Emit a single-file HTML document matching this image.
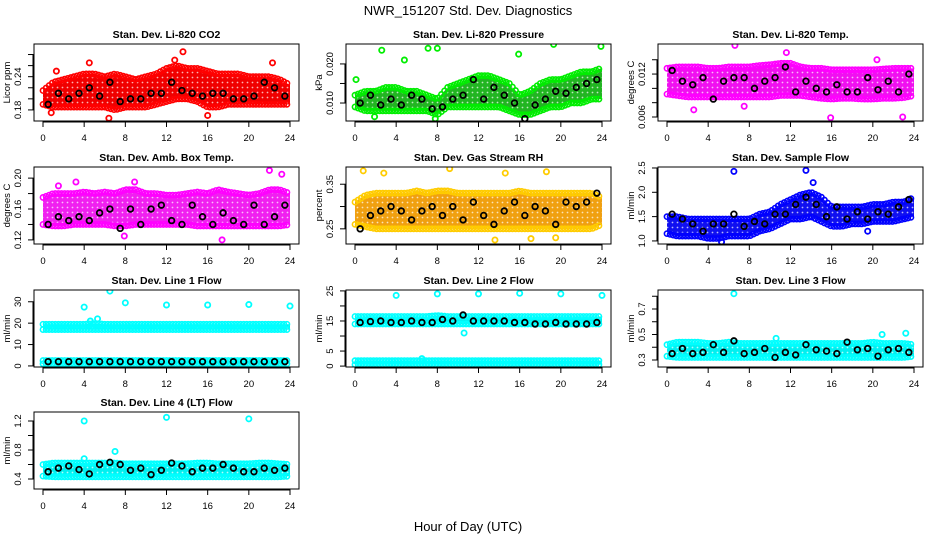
<!DOCTYPE html>
<html><head><meta charset="utf-8">
<style>
html,body{margin:0;padding:0;background:#fff;}
svg{display:block;font-family:"Liberation Sans",Arial,sans-serif;}
</style></head>
<body>
<svg id="chart" width="936" height="540" viewBox="0 0 936 540" xmlns="http://www.w3.org/2000/svg">
<rect x="0" y="0" width="936" height="540" fill="#fff"/>
<text x="468" y="15" font-size="13" text-anchor="middle">NWR_151207  Std. Dev. Diagnostics</text>
<text x="468" y="531" font-size="13" text-anchor="middle">Hour of Day (UTC)</text>
</svg>
<script>
// ---- data ----
const bandHours = [0,1,2,3,4,5,6,7,8,9,10,11,12,13,14,15,16,17,18,19,20,21,22,23,24];
const blackHours = [0.5,1.5,2.5,3.5,4.5,5.5,6.5,7.5,8.5,9.5,10.5,11.5,12.5,13.5,14.5,15.5,16.5,17.5,18.5,19.5,20.5,21.5,22.5,23.5];

const co2Lo = [0.19,0.185,0.185,0.185,0.185,0.185,0.185,0.18,0.185,0.185,0.185,0.19,0.195,0.2,0.2,0.195,0.185,0.185,0.19,0.19,0.19,0.19,0.19,0.19,0.19];
const co2Hi = [0.215,0.23,0.235,0.24,0.245,0.245,0.24,0.245,0.24,0.235,0.24,0.245,0.255,0.26,0.255,0.255,0.25,0.245,0.245,0.245,0.24,0.24,0.24,0.235,0.225];
const co2Black = [0.19,0.21,0.2,0.21,0.22,0.205,0.23,0.195,0.2,0.2,0.21,0.21,0.23,0.215,0.21,0.205,0.21,0.21,0.2,0.2,0.205,0.23,0.22,0.205];
const co2OutX = [4.5,6.4,12.8,13.6,16,22.3,0.8,1.3];
const co2OutY = [0.265,0.165,0.27,0.285,0.17,0.265,0.175,0.25];

const presLo = [0.009,0.008,0.008,0.008,0.008,0.008,0.008,0.008,0.007,0.009,0.009,0.009,0.009,0.009,0.009,0.008,0.007,0.007,0.008,0.009,0.009,0.01,0.01,0.011,0.011];
const presHi = [0.012,0.013,0.013,0.014,0.014,0.013,0.013,0.012,0.011,0.014,0.015,0.016,0.017,0.017,0.016,0.015,0.012,0.013,0.015,0.016,0.016,0.017,0.018,0.018,0.019];
const presBlack = [0.01,0.012,0.0095,0.011,0.0095,0.012,0.011,0.0085,0.009,0.011,0.012,0.016,0.011,0.014,0.012,0.01,0.006,0.0095,0.011,0.013,0.0125,0.014,0.015,0.016];
const presOutX = [2.6,7.1,8,19.3,23.9,4.8,15.9,7.8,1.9,0.1];
const presOutY = [0.0235,0.024,0.024,0.025,0.0245,0.021,0.0225,0.006,0.0065,0.016];

const tempLo = [0.0092,0.009,0.0088,0.0088,0.0088,0.0088,0.0088,0.0088,0.0088,0.0088,0.0088,0.009,0.009,0.009,0.0088,0.0086,0.0085,0.0086,0.0086,0.0085,0.0085,0.0086,0.0086,0.0087,0.009];
const tempHi = [0.0128,0.013,0.013,0.013,0.0128,0.0128,0.013,0.013,0.013,0.0132,0.0133,0.0135,0.0135,0.013,0.0128,0.0128,0.0126,0.0126,0.0126,0.0126,0.0126,0.0127,0.0128,0.0128,0.0128];
const tempBlack = [0.0125,0.011,0.0105,0.0115,0.0085,0.011,0.0115,0.0115,0.01,0.011,0.0115,0.013,0.0095,0.011,0.01,0.0095,0.0105,0.0095,0.0095,0.0115,0.0098,0.011,0.0095,0.012];
const tempOutX = [6.6,15.9,22.9,11.6,20.4,2.6,7.5];
const tempOutY = [0.016,0.0059,0.006,0.015,0.014,0.007,0.0075];

const ambLo = [0.14,0.138,0.138,0.14,0.14,0.14,0.14,0.138,0.138,0.14,0.14,0.14,0.14,0.14,0.14,0.138,0.138,0.138,0.138,0.138,0.138,0.138,0.138,0.138,0.14];
const ambHi = [0.175,0.18,0.18,0.18,0.182,0.18,0.182,0.18,0.185,0.185,0.18,0.18,0.178,0.178,0.18,0.182,0.18,0.185,0.182,0.18,0.178,0.18,0.185,0.185,0.18];
const ambBlack = [0.14,0.15,0.145,0.15,0.145,0.155,0.16,0.135,0.16,0.14,0.16,0.165,0.145,0.14,0.165,0.15,0.14,0.155,0.145,0.14,0.165,0.14,0.15,0.165];
const ambOutX = [22,23.2,8.9,17.4,7.9,1.5,3.2];
const ambOutY = [0.21,0.205,0.195,0.12,0.125,0.19,0.195];

const rhLo = [0.26,0.255,0.25,0.25,0.25,0.25,0.25,0.25,0.25,0.25,0.25,0.25,0.25,0.25,0.25,0.25,0.25,0.25,0.25,0.25,0.25,0.25,0.25,0.25,0.26];
const rhHi = [0.31,0.325,0.33,0.33,0.33,0.33,0.335,0.33,0.335,0.335,0.33,0.33,0.33,0.33,0.33,0.33,0.335,0.33,0.33,0.33,0.33,0.33,0.33,0.33,0.32];
const rhBlack = [0.25,0.28,0.29,0.3,0.29,0.27,0.29,0.3,0.28,0.3,0.27,0.31,0.28,0.26,0.29,0.31,0.28,0.3,0.29,0.26,0.31,0.3,0.31,0.33];
const rhOutX = [0.8,2.8,9.2,18.6,13.6,19.5,17.1,14.6];
const rhOutY = [0.38,0.375,0.385,0.378,0.225,0.23,0.228,0.375];

const flowLo = [1.15,1.1,1.1,1.1,1.05,1.05,1.1,1.1,1.1,1.2,1.25,1.35,1.45,1.45,1.5,1.4,1.3,1.3,1.35,1.35,1.4,1.4,1.4,1.45,1.5];
const flowHi = [1.5,1.5,1.45,1.45,1.45,1.45,1.45,1.45,1.45,1.55,1.6,1.75,1.85,1.95,2.0,1.9,1.7,1.7,1.7,1.7,1.75,1.75,1.8,1.8,1.9];
const flowBlack = [1.55,1.45,1.35,1.2,1.35,1.35,1.55,1.3,1.4,1.35,1.55,1.55,1.75,1.9,1.75,1.5,1.7,1.45,1.6,1.45,1.6,1.55,1.7,1.85];
const flowOutX = [6.5,13.5,5.3,19.5,14.2];
const flowOutY = [2.43,2.45,0.98,1.2,2.2];

const l1Lo = [17,17,17,17,17,17,17,17,17,17,17,17,17,17,17,17,17,17,17,17,17,17,17,17,17];
const l1Hi = [19.5,19.5,19.5,19.5,19.5,19.8,19.5,19.5,19.5,19.5,19.5,19.5,19.5,19.5,19.5,19.5,19.5,19.5,19.5,19.5,19.5,19.5,19.5,19.5,19.5];
const l1Lo2 = [1,1,1,1,1,1,1,1,1,1,1,1,1,1,1,1,1,1,1,1,1,1,1,1,1];
const l1Hi2 = [2.5,2.5,2.5,2.5,2.5,2.5,2.5,2.5,2.5,2.5,2.5,2.5,2.5,2.5,2.5,2.5,2.5,2.5,2.5,2.5,2.5,2.5,2.5,2.5,2.5];
const l1Black = [2,2,2,2,2,2,2,2,2,2,2,2,2,2,2,2,2,2,2,2,2,2,2,2];
const l1OutX = [4,6.5,8,12,16,20,24,5.3,4.6];
const l1OutY = [27.5,35,29.5,28.5,28.5,28.7,28,22,21];

const l2Lo = [14,14,14,14,14,14,14,14,14,14,14,14,14,14,14,14,14,14,14,14,14,14,14,14,14];
const l2Hi = [16.5,16.5,16.5,16.5,16.5,16.5,16.5,16.5,16.8,16.5,16.5,16.5,16.5,16.5,16.5,16.5,16.5,16.5,16.5,16.5,16.5,16.5,16.5,16.5,16.5];
const l2Lo2 = [0.5,0.5,0.5,0.5,0.5,0.5,0.5,0.5,0.5,0.5,0.5,0.5,0.5,0.5,0.5,0.5,0.5,0.5,0.5,0.5,0.5,0.5,0.5,0.5,0.5];
const l2Hi2 = [1.8,1.8,1.8,1.8,1.8,1.8,1.8,1.8,1.8,1.8,1.8,1.8,1.8,1.8,1.8,1.8,1.8,1.8,1.8,1.8,1.8,1.8,1.8,1.8,1.8];
const l2Black = [14.5,14.8,15,14.5,14.5,15,14.5,14.5,15.5,15,17,15,15,15,15,14.5,14.5,14,14,14.5,14,14,14,14.5];
const l2OutX = [4,8,12,16,20,24,10.6,6.5];
const l2OutY = [23.5,24,24,24.2,24,23.5,11,2.5];

const l3Lo = [0.33,0.32,0.32,0.32,0.32,0.32,0.32,0.32,0.32,0.32,0.32,0.32,0.32,0.32,0.32,0.32,0.32,0.32,0.32,0.32,0.32,0.32,0.32,0.32,0.33];
const l3Hi = [0.42,0.44,0.44,0.44,0.43,0.43,0.44,0.43,0.43,0.43,0.43,0.43,0.43,0.43,0.43,0.43,0.43,0.43,0.43,0.43,0.44,0.43,0.43,0.43,0.42];
const l3Black = [0.35,0.39,0.35,0.36,0.42,0.36,0.45,0.35,0.36,0.39,0.32,0.36,0.34,0.42,0.38,0.37,0.35,0.44,0.38,0.39,0.33,0.38,0.39,0.36];
const l3OutX = [6.5,10.6,20.9,23.2];
const l3OutY = [0.82,0.47,0.5,0.51];

const l4Lo = [0.44,0.43,0.43,0.43,0.43,0.43,0.43,0.43,0.43,0.43,0.43,0.43,0.43,0.43,0.43,0.43,0.43,0.43,0.43,0.43,0.43,0.43,0.43,0.43,0.44];
const l4Hi = [0.6,0.62,0.62,0.62,0.62,0.62,0.62,0.62,0.61,0.61,0.61,0.61,0.61,0.61,0.61,0.62,0.62,0.61,0.61,0.61,0.61,0.62,0.62,0.61,0.6];
const l4Black = [0.5,0.55,0.58,0.53,0.47,0.6,0.63,0.6,0.52,0.55,0.46,0.52,0.62,0.58,0.5,0.55,0.55,0.6,0.55,0.5,0.5,0.55,0.52,0.55];
const l4OutX = [4,12,20,7,4];
const l4OutY = [1.2,1.25,1.23,0.78,0.68];

// ---- layout / config ----
const colLeft = [34,346,658];
const rowTop = [44,167,290,412];
const boxW = 265, boxH = 77;
const xTicks = [0,4,8,12,16,20,24];

const panels = [
 {name:'co2',title:'Stan. Dev. Li-820 CO2',ylab:'Licor ppm',c:0,r:0,ymin:0.160,ymax:0.299,ticks:[0.18,0.2,0.22,0.24,0.26,0.28],labs:[0.18,0.24],dec:2,color:'#ff0000',fill:'#f00000',bands:[[co2Lo,co2Hi]],black:co2Black,ox:co2OutX,oy:co2OutY},
 {name:'pressure',title:'Stan. Dev. Li-820 Pressure',ylab:'kPa',c:1,r:0,ymin:0.0054,ymax:0.0251,ticks:[0.01,0.015,0.02],labs:[0.01,0.02],dec:3,color:'#00ee00',fill:'#22b522',bands:[[presLo,presHi]],black:presBlack,ox:presOutX,oy:presOutY},
 {name:'li820-temp',title:'Stan. Dev. Li-820 Temp.',ylab:'degrees C',c:2,r:0,ymin:0.00544,ymax:0.0162,ticks:[0.006,0.008,0.01,0.012,0.014],labs:[0.006,0.012],dec:3,color:'#ff00ff',fill:'#f010f0',bands:[[tempLo,tempHi]],black:tempBlack,ox:tempOutX,oy:tempOutY},
 {name:'amb-temp',title:'Stan. Dev. Amb. Box Temp.',ylab:'degrees C',c:0,r:1,ymin:0.1147,ymax:0.2144,ticks:[0.12,0.14,0.16,0.18,0.2],labs:[0.12,0.16,0.2],dec:2,color:'#ff00ff',fill:'#f020f0',bands:[[ambLo,ambHi]],black:ambBlack,ox:ambOutX,oy:ambOutY},
 {name:'rh',title:'Stan. Dev. Gas Stream RH',ylab:'percent',c:1,r:1,ymin:0.216,ymax:0.3886,ticks:[0.25,0.3,0.35],labs:[0.25,0.35],dec:2,color:'#ffcc00',fill:'#f0a010',bands:[[rhLo,rhHi]],black:rhBlack,ox:rhOutX,oy:rhOutY},
 {name:'sample-flow',title:'Stan. Dev. Sample Flow',ylab:'ml/min',c:2,r:1,ymin:0.937,ymax:2.52,ticks:[1,1.5,2,2.5],labs:[1,1.5,2,2.5],dec:1,color:'#0000ff',fill:'#1010f0',bands:[[flowLo,flowHi]],black:flowBlack,ox:flowOutX,oy:flowOutY},
 {name:'line1-flow',title:'Stan. Dev. Line 1 Flow',ylab:'ml/min',c:0,r:2,ymin:-0.5,ymax:35.5,ticks:[0,10,20,30],labs:[0,10,20,30],dec:0,color:'#00ffff',fill:'#00f0f0',bands:[[l1Lo,l1Hi],[l1Lo2,l1Hi2]],black:l1Black,ox:l1OutX,oy:l1OutY},
 {name:'line2-flow',title:'Stan. Dev. Line 2 Flow',ylab:'ml/min',c:1,r:2,ymin:-0.3,ymax:25.3,ticks:[0,5,10,15,20,25],labs:[0,5,15,25],dec:0,color:'#00ffff',fill:'#00f0f0',bands:[[l2Lo,l2Hi],[l2Lo2,l2Hi2]],black:l2Black,ox:l2OutX,oy:l2OutY},
 {name:'line3-flow',title:'Stan. Dev. Line 3 Flow',ylab:'ml/min',c:2,r:2,ymin:0.245,ymax:0.849,ticks:[0.3,0.4,0.5,0.6,0.7,0.8],labs:[0.3,0.5,0.7],dec:1,color:'#00ffff',fill:'#00f0f0',bands:[[l3Lo,l3Hi]],black:l3Black,ox:l3OutX,oy:l3OutY},
 {name:'line4-flow',title:'Stan. Dev. Line 4 (LT) Flow',ylab:'ml/min',c:0,r:3,ymin:0.262,ymax:1.324,ticks:[0.4,0.6,0.8,1.0,1.2],labs:[0.4,0.8,1.2],dec:1,color:'#00ffff',fill:'#00f0f0',bands:[[l4Lo,l4Hi]],black:l4Black,ox:l4OutX,oy:l4OutY}
];

const NS = 'http://www.w3.org/2000/svg';
const svg = document.getElementById('chart');
function mk(tag, attrs, parent){
  const e = document.createElementNS(NS, tag);
  for (const k in attrs) e.setAttribute(k, attrs[k]);
  parent.appendChild(e);
  return e;
}
function interp(arr, h){
  const i = Math.min(Math.floor(h), bandHours.length - 2);
  const t = h - bandHours[i];
  return arr[i] + (arr[i+1] - arr[i]) * t;
}
const defs = mk('defs', {}, svg);

panels.forEach(p => {
  const L = colLeft[p.c], T = rowTop[p.r], B = T + boxH;
  const xS = h => L + 9 + h * (247 / 24);
  const yS = v => B - (v - p.ymin) / (p.ymax - p.ymin) * boxH;
  const g = mk('g', {}, svg);
  
  

  // speckle pattern (hollow-circle texture)
  const patId = 'pat-' + p.name;
  const pat = mk('pattern', {id: patId, width: 5, height: 5, patternUnits: 'userSpaceOnUse'}, defs);
  mk('rect', {x: 0, y: 0, width: 5, height: 5, fill: p.fill}, pat);
  mk('circle', {cx: 2.5, cy: 2.5, r: 0.9, fill: '#fff', 'fill-opacity': 0.7}, pat);

  const clipId = 'clip-' + p.name;
  const cp = mk('clipPath', {id: clipId}, g);
  mk('rect', {x: L, y: T, width: boxW, height: boxH}, cp);
  const plot = mk('g', {'clip-path': 'url(#' + clipId + ')'}, g);
  
  

  p.bands.forEach(b => {
    const lo = b[0], hi = b[1];
    let pts = [];
    bandHours.forEach((h, i) => pts.push(xS(h) + ',' + yS(hi[i])));
    for (let i = bandHours.length - 1; i >= 0; i--) pts.push(xS(bandHours[i]) + ',' + yS(lo[i]));
    const poly = mk('polygon', {points: pts.join(' '), fill: 'url(#' + patId + ')', stroke: 'none'}, plot);
    
    
    for (let h = 0; h <= 24; h += 0.3) {
      [interp(lo, h), interp(hi, h)].forEach(v => {
        const c = mk('circle', {cx: xS(h), cy: yS(v), r: 2.6, fill: 'none', stroke: p.color, 'stroke-width': 1.6}, plot);
        
        
      });
    }
  });
  p.ox.forEach((h, i) => {
    const c = mk('circle', {cx: xS(h), cy: yS(p.oy[i]), r: 2.6, fill: 'none', stroke: p.color, 'stroke-width': 1.8}, plot);
    
    
  });
  p.black.forEach((v, i) => {
    const c = mk('circle', {cx: xS(blackHours[i]), cy: yS(v), r: 2.8, fill: 'none', stroke: '#000', 'stroke-width': 1.8}, plot);
    
    
  });

  const box = mk('rect', {x: L, y: T, width: boxW, height: boxH, fill: 'none', stroke: '#000', 'stroke-width': 1}, g);
  
  

  const tt = mk('text', {x: L + boxW / 2, y: T - 6, 'font-size': 10.5, 'font-weight': 'bold', 'text-anchor': 'middle'}, g);
  tt.textContent = p.title;
  
  

  mk('line', {x1: xS(0), x2: xS(24), y1: B + 1, y2: B + 1, stroke: '#000'}, g);
  xTicks.forEach(h => {
    mk('line', {x1: xS(h), x2: xS(h), y1: B, y2: B + 6, stroke: '#000'}, g);
    const t = mk('text', {x: xS(h), y: B + 20, 'font-size': 9.5, 'text-anchor': 'middle'}, g);
    t.textContent = h;
    
    
  });

  mk('line', {x1: L - 1, x2: L - 1, y1: yS(p.ticks[0]), y2: yS(p.ticks[p.ticks.length - 1]), stroke: '#000'}, g);
  p.ticks.forEach(v => {
    mk('line', {x1: L - 6, x2: L, y1: yS(v), y2: yS(v), stroke: '#000'}, g);
  });
  p.labs.forEach(v => {
    const x = L - 13, y = yS(v);
    const t = mk('text', {x: x, y: y, 'font-size': 9.5, 'text-anchor': 'middle', transform: 'rotate(-90 ' + x + ' ' + y + ')'}, g);
    t.textContent = v.toFixed(p.dec);
    
    
  });
  const yx = L - 24, yy = T + boxH / 2;
  const yt = mk('text', {x: yx, y: yy, 'font-size': 9.5, 'text-anchor': 'middle', transform: 'rotate(-90 ' + yx + ' ' + yy + ')'}, g);
  yt.textContent = p.ylab;
  
  
});
</script>
</body></html>
